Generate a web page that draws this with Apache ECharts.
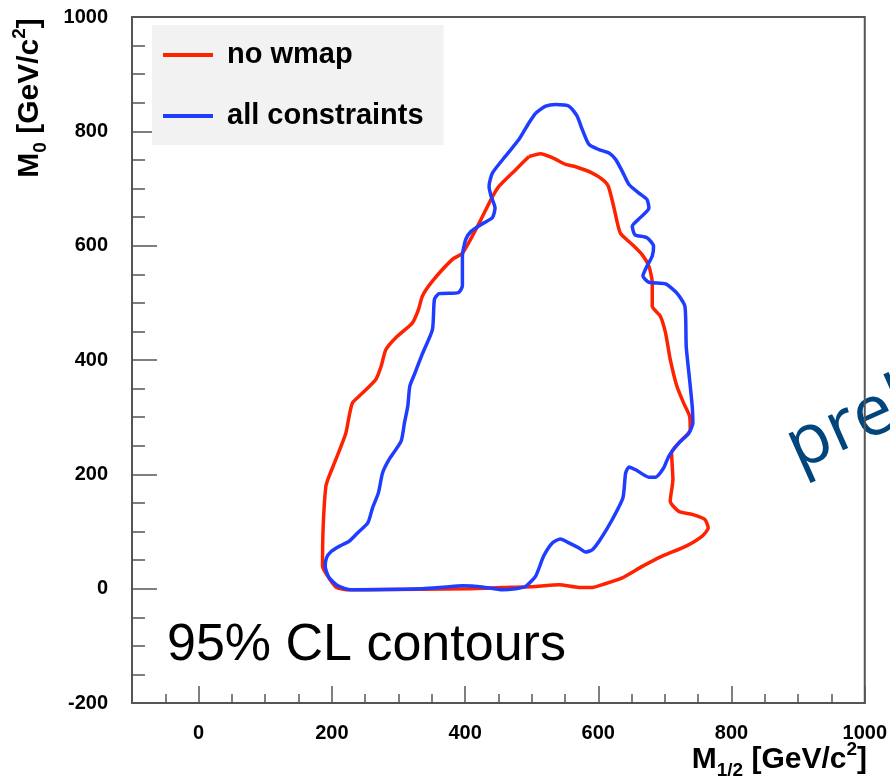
<!DOCTYPE html>
<html>
<head>
<meta charset="utf-8">
<title>95% CL contours</title>
<script src="https://cdn.jsdelivr.net/npm/echarts@6.0.0/dist/echarts.min.js"></script>
<style>
  html, body { margin: 0; padding: 0; background: #fff; }
  #chart { width: 890px; height: 779px; }
</style>
</head>
<body>
<div id="chart"></div>
<script>
// ticks
var xTicks = [0, 200, 400, 600, 800, 1000];
var xMinorTicks = [-50, 50, 100, 150, 250, 300, 350, 450, 500, 550, 650, 700, 750, 850, 900, 950];
var yMin = -200, yMax = 1000, yStep = 200;

var seriesNames = ["no wmap", "all constraints"];

// contour "no wmap" [M1/2, M0]
var noWmap = [
  [496,756],[513,761],[531,754],[551,742],[566,738],[591,727],[606,716],[615,704],
  [623,669],[633,622],[651,602],[666,584],[676,564],[681,535],[681,494],[693,477],
  [701,447],[708,401],[718,354],[728,325],[737,302],[738,278],[721,255],[710,238],
  [712,191],[708,153],[721,135],[741,130],[760,121],[765,106],[756,92],[731,74],
  [696,57],[666,39],[636,19],[606,7],[591,2],[571,2],[541,7],[506,4],[456,2],
  [406,0],[336,-1],[226,-2],[206,3],[191,27],[186,39],[187,109],[191,179],[196,197],
  [206,226],[221,272],[226,302],[231,325],[244,340],[266,366],[274,389],[281,418],
  [296,439],[321,465],[330,488],[336,512],[351,538],[381,576],[396,587],[411,617],
  [424,646],[439,681],[451,704],[476,733],[496,756]
];

// contour "all constraints"
var allConstraints = [
  [506,832],[521,844],[536,847],[556,844],[568,827],[576,803],[586,777],[601,768],
  [616,762],[626,751],[636,730],[646,707],[661,692],[673,681],[676,666],[663,649],
  [651,634],[655,619],[673,614],[683,599],[681,582],[673,564],[667,547],[676,536],
  [701,533],[718,517],[730,494],[732,424],[737,366],[741,319],[742,290],[736,272],
  [721,255],[706,232],[698,211],[686,195],[676,195],[656,208],[646,213],[641,202],
  [637,159],[621,121],[603,86],[591,68],[581,64],[571,71],[556,80],[543,87],
  [531,80],[518,57],[506,22],[491,4],[476,0],[456,-2],[426,3],[396,5],[371,3],
  [336,0],[229,-2],[209,5],[196,19],[190,39],[192,54],[199,65],[211,74],[226,83],
  [239,98],[254,115],[261,141],[270,168],[276,202],[286,226],[304,258],[309,290],
  [314,319],[317,354],[324,375],[336,411],[351,453],[354,506],[361,516],[390,518],
  [396,530],[396,582],[401,611],[409,625],[424,637],[441,649],[445,666],[439,687],
  [436,704],[441,727],[461,757],[481,786],[496,815],[506,832]
];

var FONT = "Liberation Sans";
var axisGray = "#555";
var redLine = "#ff2200";
var blueLine = "#1f3dff";

var chart = echarts.init(document.getElementById("chart"), null, { renderer: "canvas" });

var titleRich = {
  b: { fontFamily: FONT, fontWeight: "bold", fontSize: 30, lineHeight: 40, verticalAlign: "middle", color: "#000" },
  sub: { fontFamily: FONT, fontWeight: "bold", fontSize: 19, lineHeight: 19, verticalAlign: "bottom", color: "#000" },
  sup: { fontFamily: FONT, fontWeight: "bold", fontSize: 19, lineHeight: 19, verticalAlign: "top", color: "#000" }
};

function plainNum(v) { return String(v); }

var option = {
  animation: false,
  backgroundColor: "#fff",
  grid: {
    left: 132, right: 23, top: 17, bottom: 76,
    containLabel: false,
    show: true, borderColor: axisGray, borderWidth: 2, backgroundColor: "transparent"
  },
  legend: {
    left: 152, top: 25,
    orient: "vertical",
    data: [
      { name: seriesNames[0], icon: "rect", itemStyle: { color: redLine } },
      { name: seriesNames[1], icon: "rect", itemStyle: { color: blueLine } }
    ],
    backgroundColor: "#f2f2f2",
    borderRadius: 0,
    padding: [15, 20, 14, 11],
    itemWidth: 50, itemHeight: 4, itemGap: 31,
    textStyle: { fontFamily: FONT, fontWeight: "bold", fontSize: 29, lineHeight: 30, color: "#000", padding: [0, 0, 0, 9] }
  },
  xAxis: [{
    type: "value", min: -100, max: 1000, position: "bottom",
    axisLine: { show: true, onZero: false, lineStyle: { color: axisGray, width: 2 } },
    axisTick: { show: true, inside: true, length: 17, customValues: xTicks, lineStyle: { color: axisGray, width: 1.5 } },
    axisLabel: { customValues: xTicks, formatter: plainNum, margin: 20, fontFamily: FONT, fontWeight: "bold", fontSize: 20, color: "#000" },
    splitLine: { show: false }
  }, {
    // minor ticks only
    type: "value", min: -100, max: 1000, position: "bottom",
    axisLine: { show: false, onZero: false },
    axisTick: { show: true, inside: true, length: 9, customValues: xMinorTicks, lineStyle: { color: axisGray, width: 1.5 } },
    axisLabel: { show: false },
    splitLine: { show: false }
  }],
  yAxis: {
    type: "value", min: yMin, max: yMax, interval: yStep,
    axisLine: { show: true, onZero: false, lineStyle: { color: axisGray, width: 2 } },
    axisTick: { show: true, inside: true, length: 25, lineStyle: { color: axisGray, width: 1.5 } },
    minorTick: { show: true, splitNumber: 4, length: 13, lineStyle: { color: axisGray, width: 1.5 } },
    axisLabel: { formatter: plainNum, margin: 24, fontFamily: FONT, fontWeight: "bold", fontSize: 20, color: "#000" },
    splitLine: { show: false }
  },
  series: [{
    name: seriesNames[0], type: "line", xAxisIndex: 0,
    data: noWmap, symbol: "none", smooth: 0.2,
    lineStyle: { color: redLine, width: 3.5 }, itemStyle: { color: redLine }, z: 3
  }, {
    name: seriesNames[1], type: "line", xAxisIndex: 0,
    data: allConstraints, symbol: "none", smooth: 0.2,
    lineStyle: { color: blueLine, width: 3.5 }, itemStyle: { color: blueLine }, z: 4
  }],
  graphic: [{
    // y title, rotated
    type: "text", x: 30, y: 98, rotation: Math.PI / 2,
    style: {
      text: "{b|M}{sub|0}{b| [GeV/c}{sup|2}{b|]}",
      rich: titleRich, align: "center", verticalAlign: "middle"
    }
  }, {
    type: "text", x: 867, y: 760,
    style: {
      text: "{b|M}{sub|1/2}{b| [GeV/c}{sup|2}{b|]}",
      rich: titleRich, align: "right", verticalAlign: "middle"
    }
  }, {
    type: "text", x: 167, y: 646,
    style: { text: "95% CL contours", fontFamily: FONT, fontSize: 52, fill: "#000", align: "left", verticalAlign: "middle" }
  }, {
    // slide overlay text, cut by the page edge
    type: "text", x: 776, y: 420, rotation: 24 * Math.PI / 180, z: -1,
    style: { text: "preliminary", fontFamily: "Open Sans", fontSize: 70, fill: "#00457c", align: "left", verticalAlign: "alphabetic" }
  }]
};

chart.setOption(option);
</script>
</body>
</html>
